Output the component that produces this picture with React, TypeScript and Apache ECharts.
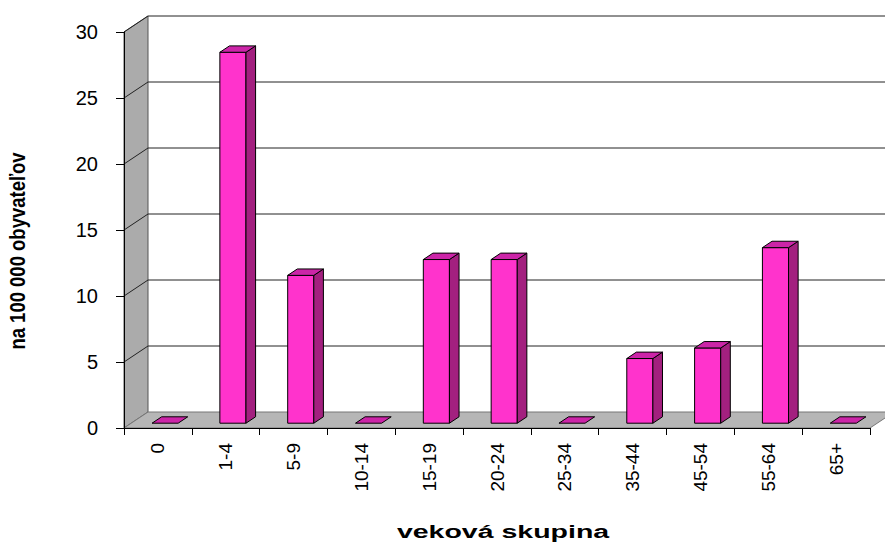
import React, { useEffect, useRef } from "react";
import * as echarts from "echarts";

const categories = ["0", "1-4", "5-9", "10-14", "15-19", "20-24", "25-34", "35-44", "45-54", "55-64", "65+"];
const values = [0, 28.1, 11.2, 0, 12.4, 12.4, 0, 4.9, 5.7, 13.3, 0];
const yTicks = [0, 5, 10, 15, 20, 25, 30];
const yTitle = "na 100 000 obyvateľov";
const xTitle = "veková skupina";

// 3D look constants
const DEPTH_X = 24;
const DEPTH_Y = 16;
const BAR_FRONT = 0.3;
const BAR_DEPTH = 0.4;
const BAR_WIDTH = 0.385;
const FONT = "'Liberation Sans', Arial, sans-serif";

export default function App() {
  const ref = useRef<HTMLDivElement>(null);

  useEffect(() => {
    if (!ref.current) return;
    const chart = echarts.init(ref.current, undefined, { renderer: "svg" });
    const n = categories.length;

    const wallRender = (params: any, api: any) => {
      const v = api.value(1);
      const bw = api.size([1, 0])[0];
      const L = api.coord([0, 0])[0] - bw / 2;
      const R = api.coord([n - 1, 0])[0] + bw / 2;
      const y0 = api.coord([0, 0])[1];
      const yTop = api.coord([0, yTicks[yTicks.length - 1]])[1];
      const y = api.coord([0, v])[1];
      const children: any[] = [];
      if (params.dataIndex === 0) {
        children.push({
          type: "polygon",
          shape: { points: [[L, yTop], [L + DEPTH_X, yTop - DEPTH_Y], [L + DEPTH_X, y0 - DEPTH_Y], [L, y0]] },
          style: { fill: "#ababab", stroke: "#555", lineWidth: 1 },
        });
        children.push({
          type: "polygon",
          shape: { points: [[L, y0], [L + DEPTH_X, y0 - DEPTH_Y], [R + DEPTH_X, y0 - DEPTH_Y], [R, y0]] },
          style: { fill: "#b6b6b6", stroke: "#777", lineWidth: 1 },
        });
      }
      if (v > 0) {
        children.push({
          type: "polyline",
          shape: { points: [[L, y], [L + DEPTH_X, y - DEPTH_Y], [R + DEPTH_X, y - DEPTH_Y]] },
          style: { fill: "none", stroke: "#222", lineWidth: 1 },
        });
      }
      return { type: "group", children };
    };

    const barRender = (params: any, api: any) => {
      const i = api.value(0);
      const v = api.value(1);
      const top = api.coord([i, v]);
      const base = api.coord([i, 0]);
      const bw = api.size([1, 0])[0];
      const w = bw * BAR_WIDTH;
      const ox = BAR_FRONT * DEPTH_X;
      const oy = BAR_FRONT * DEPTH_Y;
      const dx = BAR_DEPTH * DEPTH_X;
      const dy = BAR_DEPTH * DEPTH_Y;
      const fx = top[0] - w / 2 + ox;
      const fy0 = base[1] - oy;
      const fy1 = top[1] - oy;
      const stroke = { stroke: "#000", lineWidth: 1, lineJoin: "round" };
      const children: any[] = [];
      if (fy0 - fy1 > 0.5) {
        children.push({
          type: "polygon",
          shape: { points: [[fx, fy1], [fx + w, fy1], [fx + w, fy0], [fx, fy0]] },
          style: { fill: "#ff33cc", ...stroke },
        });
        children.push({
          type: "polygon",
          shape: { points: [[fx + w, fy0], [fx + w + dx, fy0 - dy], [fx + w + dx, fy1 - dy], [fx + w, fy1]] },
          style: { fill: "#a3207f", ...stroke },
        });
      }
      children.push({
        type: "polygon",
        shape: { points: [[fx, fy1], [fx + dx, fy1 - dy], [fx + w + dx, fy1 - dy], [fx + w, fy1]] },
        style: { fill: "#cc25a8", ...stroke },
      });
      return { type: "group", children };
    };

    chart.setOption({
      animation: false,
      backgroundColor: "#ffffff",
      grid: { left: 124, right: 15, top: 32, bottom: 114 },
      xAxis: {
        type: "category",
        data: categories,
        z: 5,
        axisLine: { show: true, lineStyle: { color: "#000", width: 1 } },
        axisTick: { show: true, length: 7, alignWithLabel: false, lineStyle: { color: "#000" } },
        axisLabel: { rotate: 90, margin: 15, color: "#000", fontSize: 19, fontFamily: FONT, interval: 0 },
        splitLine: { show: false },
      },
      yAxis: {
        type: "value",
        min: 0,
        max: 30,
        interval: 5,
        z: 5,
        axisLine: { show: true, lineStyle: { color: "#000", width: 1 } },
        axisTick: { show: true, length: 8, lineStyle: { color: "#000" } },
        axisLabel: { margin: 26, color: "#000", fontSize: 20, fontFamily: FONT },
        splitLine: { show: false },
      },
      graphic: [
        {
          type: "text",
          x: 18,
          y: 251,
          rotation: Math.PI / 2,
          scaleY: 1.15,
          style: {
            text: yTitle,
            fontSize: 18.5,
            fontWeight: "bold",
            fontFamily: FONT,
            fill: "#000",
            textAlign: "center",
            align: "center",
            textVerticalAlign: "middle",
            verticalAlign: "middle",
          },
        },
        {
          type: "text",
          x: 503,
          y: 531,
          scaleX: 1.5,
          style: {
            text: xTitle,
            fontSize: 19,
            fontWeight: "bold",
            fontFamily: FONT,
            fill: "#000",
            textAlign: "center",
            align: "center",
            textVerticalAlign: "middle",
            verticalAlign: "middle",
          },
        },
      ],
      series: [
        {
          type: "custom",
          z: 1,
          silent: true,
          clip: false,
          renderItem: wallRender,
          data: yTicks.map((v) => [0, v]),
        },
        {
          type: "custom",
          z: 2,
          clip: false,
          renderItem: barRender,
          data: values.map((v, i) => [i, v]),
        },
      ],
    });

    return () => chart.dispose();
  }, []);

  return <div ref={ref} style={{ position: "absolute", left: 0, top: 0, width: 885, height: 542 }} />;
}
